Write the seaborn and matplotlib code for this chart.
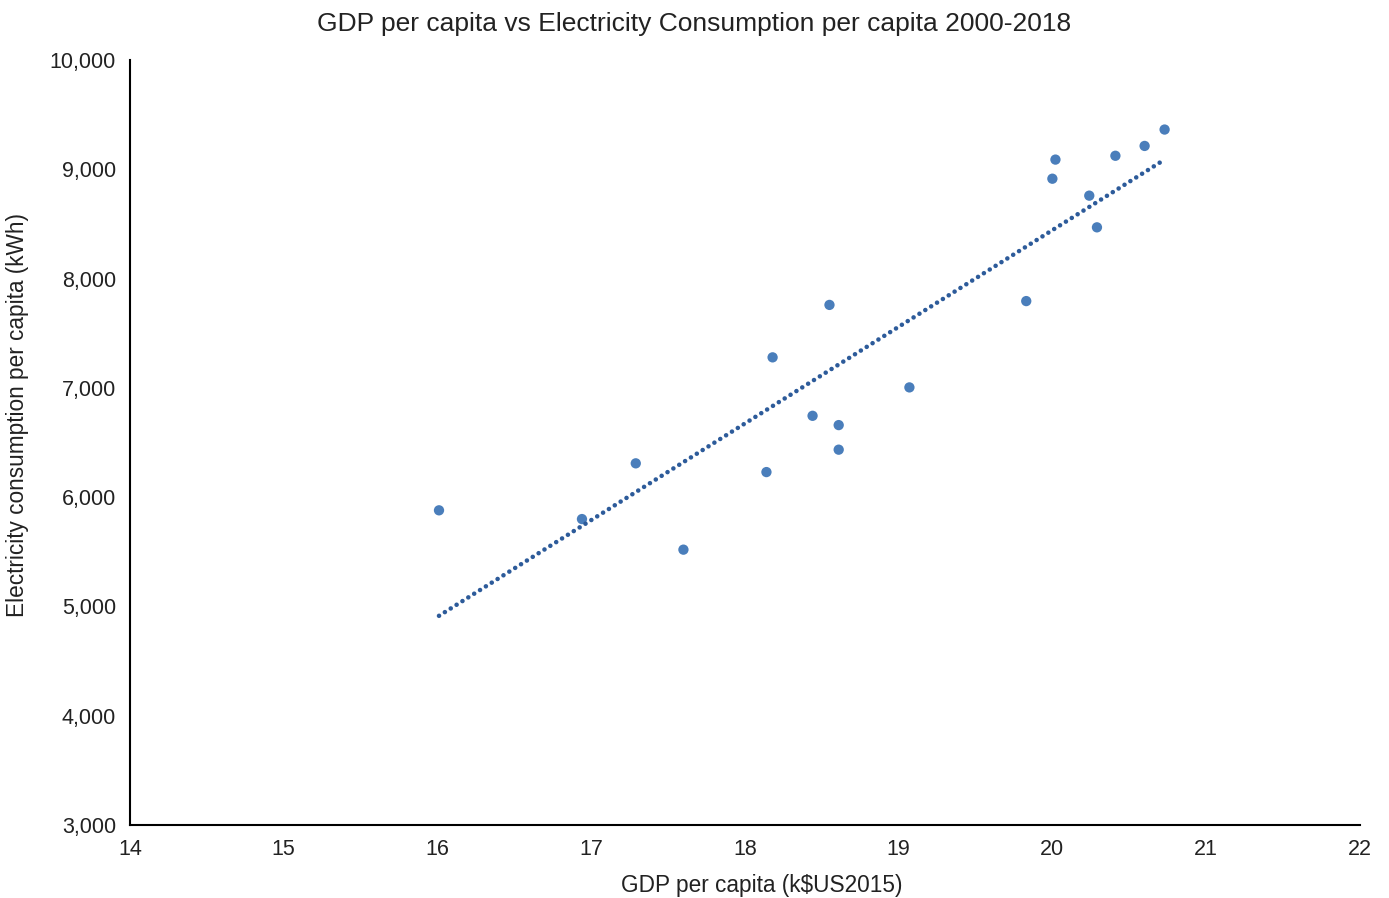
import numpy as np
import pandas as pd
import matplotlib
import matplotlib.pyplot as plt
import seaborn as sns
from matplotlib.ticker import FuncFormatter

matplotlib.use('Agg')

# GDP per capita (k$US2015) and electricity consumption per capita (kWh), 2000-2018
gdp = [16.01, 16.94, 17.29, 17.60, 18.14, 18.18, 18.44, 18.55, 18.61, 18.61,
       19.07, 19.83, 20.00, 20.02, 20.24, 20.29, 20.41, 20.60, 20.73]
elec = [5880, 5800, 6310, 5520, 6230, 7280, 6745, 7760, 6660, 6435,
        7005, 7795, 8915, 9090, 8760, 8470, 9125, 9215, 9365]

df = pd.DataFrame({'gdp': gdp, 'elec': elec})

sns.set_theme(style='white')
plt.rcParams['font.family'] = ['Liberation Sans', 'DejaVu Sans']

fig = plt.figure(figsize=(13.89, 8.98), dpi=100)
ax = fig.add_axes([0.0936, 0.0813, 0.979 - 0.0936, 0.933 - 0.0813])

sns.regplot(data=df, x='gdp', y='elec', ax=ax, ci=None,
            scatter_kws={'s': 55, 'color': '#4a7ebb', 'edgecolor': 'none', 'alpha': 1},
            line_kws={'color': '#2d5b9a', 'linestyle': (0, (0.01, 1.5)), 'linewidth': 3.3,
                      'dash_capstyle': 'round'})

ax.set_xlim(14, 22)
ax.set_ylim(3000, 10000)
ax.set_xticks(range(14, 23))
ax.set_yticks(range(3000, 10001, 1000))
ax.yaxis.set_major_formatter(FuncFormatter(lambda v, p: f'{int(v):,}'))
ax.tick_params(axis='both', labelsize=15.5, length=0, colors='#222222', pad=10)

for s in ['top', 'right']:
    ax.spines[s].set_visible(False)
for s in ['left', 'bottom']:
    ax.spines[s].set_color('black')
    ax.spines[s].set_linewidth(1.5)

ax.set_xlabel('GDP per capita (k$US2015)', fontsize=16.3, color='#222222')
ax.set_ylabel('Electricity consumption per capita (kWh)', fontsize=16.3, color='#222222')
ax.xaxis.set_label_coords(0.514, -0.064)
ax.yaxis.set_label_coords(-0.082, 0.536)
fig.suptitle('GDP per capita vs Electricity Consumption per capita 2000-2018',
             fontsize=19, color='#222222', y=0.987)

plt.savefig('out.png', dpi=100)
